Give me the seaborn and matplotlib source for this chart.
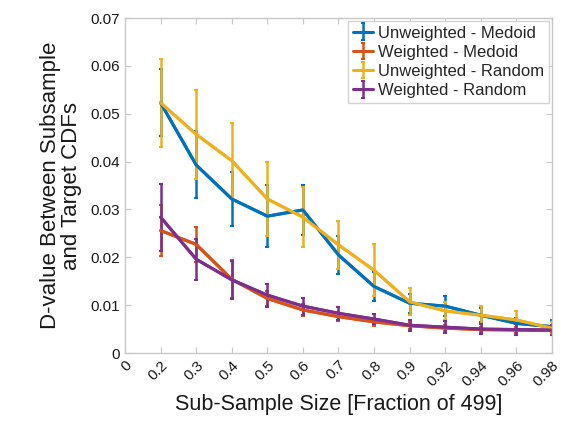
import numpy as np
import pandas as pd
import matplotlib
matplotlib.use("Agg")
import matplotlib.pyplot as plt
import seaborn as sns

tick_labels = ["0", "0.2", "0.3", "0.4", "0.5", "0.6", "0.7", "0.8", "0.9",
               "0.92", "0.94", "0.96", "0.98"]
fractions = tick_labels[1:]

unw_medoid = [0.0523, 0.0393, 0.0322, 0.0286, 0.0299, 0.0205, 0.0139, 0.0104, 0.0098, 0.0079, 0.0062, 0.0055]
unw_medoid_err = [0.0070, 0.0070, 0.0056, 0.0065, 0.0053, 0.0040, 0.0031, 0.0020, 0.0021, 0.0015, 0.0012, 0.0015]
w_medoid = [0.0256, 0.0227, 0.0154, 0.0114, 0.0090, 0.0076, 0.0065, 0.0057, 0.0052, 0.0049, 0.0048, 0.0047]
w_medoid_err = [0.0054, 0.0037, 0.0040, 0.0015, 0.0013, 0.0010, 0.0008, 0.0007, 0.0007, 0.0006, 0.0006, 0.0006]
unw_random = [0.0523, 0.0457, 0.0402, 0.0322, 0.0284, 0.0226, 0.0173, 0.0107, 0.0088, 0.0079, 0.0069, 0.0052]
unw_random_err = [0.0092, 0.0093, 0.0079, 0.0077, 0.0063, 0.0050, 0.0054, 0.0028, 0.0018, 0.0019, 0.0019, 0.0012]
w_random = [0.0284, 0.0196, 0.0153, 0.0121, 0.0098, 0.0083, 0.0071, 0.0058, 0.0054, 0.0050, 0.0049, 0.0048]
w_random_err = [0.0070, 0.0043, 0.0040, 0.0024, 0.0018, 0.0014, 0.0011, 0.0012, 0.0012, 0.0011, 0.0011, 0.0010]

series = [
    ("Unweighted - Medoid", unw_medoid, unw_medoid_err, "#0072BD"),
    ("Weighted - Medoid", w_medoid, w_medoid_err, "#D95319"),
    ("Unweighted - Random", unw_random, unw_random_err, "#EDB120"),
    ("Weighted - Random", w_random, w_random_err, "#7E2F8E"),
]

sns.set_style("white")
plt.rcParams["font.family"] = ["Liberation Sans", "DejaVu Sans"]

fig = plt.figure(figsize=(5.67, 4.21), dpi=100)
ax = fig.add_axes([0.2205, 0.1615, 0.753, 0.7955])

pos = np.arange(2, 14)
rows = []
for name, vals, errs, col in series:
    for p, v in zip(pos, vals):
        rows.append({"pos": p, "val": v, "series": name})
df = pd.DataFrame(rows)
palette = {name: col for name, _, _, col in series}
sns.lineplot(data=df, x="pos", y="val", hue="series", palette=palette,
             linewidth=2.2, legend=False, ax=ax)

handles = []
for name, vals, errs, col in series:
    h = ax.errorbar(pos, vals, yerr=errs, fmt="-", color=col, lw=2.2, ecolor=col,
                    elinewidth=1.8, capsize=1.5, capthick=1.5, label=name)
    handles.append(h)

ax.set_xlim(1, 13)
ax.set_ylim(0, 0.07)
ax.set_xticks(np.arange(1, 14))
ax.set_xticklabels(tick_labels, rotation=45, ha="right", rotation_mode="anchor",
                   fontsize=11, color="#1a1a1a")
ax.set_yticks(np.arange(0, 0.0701, 0.01))
ax.set_yticklabels(["0", "0.01", "0.02", "0.03", "0.04", "0.05", "0.06", "0.07"],
                   fontsize=11, color="#1a1a1a")
ax.tick_params(direction="in", length=4, color="#c8c8c8", top=True, right=True,
               bottom=True, left=True, labeltop=False, labelright=False)
for s in ax.spines.values():
    s.set_color("#c8c8c8")
    s.set_linewidth(1.0)

ax.set_xlabel("Sub-Sample Size [Fraction of 499]", fontsize=15.5, color="#1a1a1a", labelpad=4)
ax.set_ylabel("D-value Between Subsample\nand Target CDFs", fontsize=16, color="#1a1a1a",
              labelpad=6, linespacing=1.0)

leg = ax.legend(handles=handles, labels=[s[0] for s in series], loc="upper right",
                fontsize=12, frameon=True, fancybox=False, borderpad=0.3,
                handlelength=1.2, handletextpad=0.3, labelspacing=0.25,
                borderaxespad=0.15)
leg.get_frame().set_edgecolor("#c8c8c8")
leg.get_frame().set_linewidth(1.0)

fig.savefig("out.png", dpi=100)
